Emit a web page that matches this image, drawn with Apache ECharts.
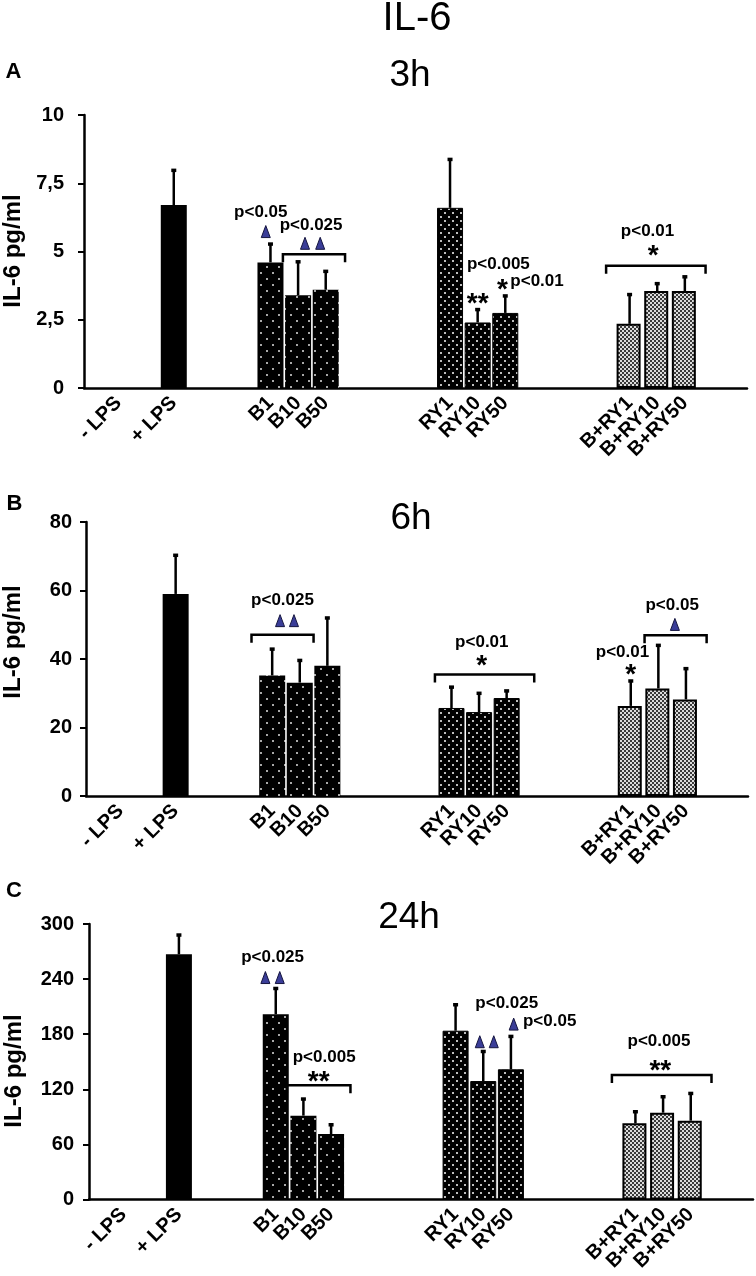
<!DOCTYPE html>
<html><head><meta charset="utf-8">
<script src="https://cdn.jsdelivr.net/npm/echarts/dist/echarts.min.js"></script>
<style>html,body{margin:0;padding:0;background:#fff}#c{width:756px;height:1276px}</style>
</head><body><div id="c"></div>
<script>
// ---------------- data ----------------
const categories = ['- LPS', '+ LPS', 'B1', 'B10', 'B50', 'RY1', 'RY10', 'RY50', 'B+RY1', 'B+RY10', 'B+RY50'];
const mean3h  = [0, 6.7, 4.6, 3.4, 3.6, 6.6, 2.4, 2.75, 2.35, 3.55, 3.55];
const err3h   = [0, 1.3, 0.7, 1.25, 0.7, 1.8, 0.5, 0.65, 1.1, 0.3, 0.55];
const mean6h  = [0, 59, 35.2, 33.1, 38, 25.7, 24.5, 28.6, 26.3, 31.4, 28.2];
const err6h   = [0, 11.5, 7.9, 6.7, 14.2, 6.3, 5.7, 2.3, 7.5, 12.8, 9.2];
const mean24h = [0, 267, 201.7, 91.3, 71.3, 183.8, 129, 141.8, 83, 94.5, 85.8];
const err24h  = [0, 21.8, 28.9, 18.9, 10.9, 29.1, 33, 36.6, 13.4, 18.2, 30.5];
const ticks3h  = ['0', '2,5', '5', '7,5', '10'];
const ticks6h  = ['0', '20', '40', '60', '80'];
const ticks24h = ['0', '60', '120', '180', '240', '300'];
const mainTitle = 'IL-6';
const panelTitles = ['3h', '6h', '24h'];
const panelLetters = ['A', 'B', 'C'];
const yTitle = 'IL-6 pg/ml';

// significance annotations (x in half-bar slot units, y in data units)
const notes3h = [
  {t:'p', text:'p<0.05', s:12.3, v:6.37},
  {t:'tri', s:12.66, v:5.73},
  {t:'p', text:'p<0.025', s:15.94, v:5.9},
  {t:'tri', s:15.5, v:5.3}, {t:'tri', s:16.6, v:5.3},
  {t:'br', s:13.9, s2:18.4, v:4.9},
  {t:'p', text:'p<0.005', s:29.5, v:4.49},
  {t:'star', text:'**', s:28.0, v:3.26},
  {t:'star', text:'*', s:29.8, v:3.77},
  {t:'p', text:'p<0.01', s:32.3, v:3.85},
  {t:'p', text:'p<0.01', s:40.3, v:5.68},
  {t:'star', text:'*', s:40.7, v:5.0},
  {t:'br', s:37.3, s2:44.5, v:4.48}
];
const notes6h = [
  {t:'p', text:'p<0.025', s:13.75, v:56.6},
  {t:'tri', s:13.57, v:51.2}, {t:'tri', s:14.58, v:51.2},
  {t:'br', s:11.5, s2:16.0, v:47.1},
  {t:'p', text:'p<0.01', s:28.2, v:44.3},
  {t:'star', text:'*', s:28.2, v:39.3},
  {t:'br', s:24.8, s2:32.0, v:35.5},
  {t:'p', text:'p<0.01', s:38.4, v:41.4},
  {t:'star', text:'*', s:39.0, v:36.7},
  {t:'p', text:'p<0.05', s:42.0, v:55.2},
  {t:'tri', s:42.2, v:50.1},
  {t:'br', s:40.0, s2:44.5, v:46.9}
];
const notes24h = [
  {t:'p', text:'p<0.025', s:12.77, v:261.9},
  {t:'tri', s:12.25, v:241.7}, {t:'tri', s:13.29, v:241.7},
  {t:'p', text:'p<0.005', s:16.5, v:153},
  {t:'star', text:'**', s:16.1, v:133.4},
  {t:'br', s:13.8, s2:18.4, v:124.3},
  {t:'p', text:'p<0.025', s:29.7, v:211.8},
  {t:'tri', s:27.75, v:171.8}, {t:'tri', s:28.76, v:171.8},
  {t:'tri', s:30.2, v:191},
  {t:'p', text:'p<0.05', s:32.8, v:192.7},
  {t:'p', text:'p<0.005', s:40.7, v:170.4},
  {t:'star', text:'**', s:40.8, v:145.4},
  {t:'br', s:37.3, s2:44.5, v:135.6}
];

// ---------------- layout / style ----------------
const FONT = "'Liberation Sans', Arial, Helvetica, sans-serif";
const slotIndex = [2, 6, 13, 15, 17, 26, 28, 30, 39, 41, 43];
const nSlots = 48;
const groupOf = ['none', 'solid', 'B', 'B', 'B', 'RY', 'RY', 'RY', 'BRY', 'BRY', 'BRY'];

function makePattern(size, bg, fg, rects) {
  const c = document.createElement('canvas');
  c.width = size; c.height = size;
  const g = c.getContext('2d');
  g.fillStyle = bg; g.fillRect(0, 0, size, size);
  g.fillStyle = fg;
  rects.forEach(r => g.fillRect(r[0], r[1], r[2], r[3]));
  return {image: c, repeat: 'repeat'};
}
const patB = makePattern(12, '#000', '#a8a8a8', [[2, 2, 2, 2], [8, 8, 2, 2]]);
const patRY = makePattern(8, '#000', '#bdbdbd', [[0, 0, 2, 2], [4, 4, 2, 2]]);
const patBRY = makePattern(4, '#3a3a3a', '#dcdcdc', [[0, 0, 2, 2], [2, 2, 2, 2]]);

function styleFor(g) {
  if (g === 'solid') return {color: '#000'};
  if (g === 'B') return {color: patB};
  if (g === 'RY') return {color: patRY, borderColor: '#000', borderWidth: 1};
  if (g === 'BRY') return {color: patBRY, borderColor: '#000', borderWidth: 2};
  return {color: '#000'};
}

const axisData = new Array(nSlots).fill('');
categories.forEach((c, i) => { axisData[slotIndex[i]] = c; });

const panels = [
  {mean: mean3h, err: err3h, ticks: ticks3h, max: 10, interval: 2.5, notes: notes3h,
   grid: {left: 84, top: 115, width: 663, height: 273}, labelMargin: 20},
  {mean: mean6h, err: err6h, ticks: ticks6h, max: 80, interval: 20, notes: notes6h,
   grid: {left: 86, top: 522, width: 662, height: 274}, labelMargin: 14},
  {mean: mean24h, err: err24h, ticks: ticks24h, max: 300, interval: 60, notes: notes24h,
   grid: {left: 89, top: 924, width: 664, height: 275.5}, labelMargin: 15}
];

const grid = [], xAxis = [], yAxis = [], series = [];
panels.forEach((p, k) => {
  grid.push(p.grid);
  xAxis.push({
    type: 'category', gridIndex: k, data: axisData,
    axisLine: {lineStyle: {color: '#000', width: 2.5}},
    axisTick: {show: false},
    axisLabel: {interval: 0, rotate: 45, margin: 12, color: '#000',
      fontFamily: FONT, fontWeight: 'bold', fontSize: 20}
  });
  yAxis.push({
    type: 'value', gridIndex: k, min: 0, max: p.max, interval: p.interval,
    splitLine: {show: false},
    axisLine: {show: true, lineStyle: {color: '#000', width: 2.5}},
    axisTick: {show: true, length: 6, lineStyle: {color: '#000', width: 2}},
    axisLabel: {margin: p.labelMargin, color: '#000', fontFamily: FONT, fontWeight: 'bold', fontSize: 20,
      formatter: v => p.ticks[Math.round(v / p.interval)]}
  });
  const dataMain = new Array(nSlots).fill(null);
  const dataBRY = new Array(nSlots).fill(null);
  const errData = [];
  categories.forEach((c, i) => {
    const g = groupOf[i];
    if (g === 'none') return;
    const item = {value: p.mean[i], itemStyle: styleFor(g)};
    if (g === 'BRY') dataBRY[slotIndex[i]] = item; else dataMain[slotIndex[i]] = item;
    errData.push([slotIndex[i], p.mean[i], p.err[i]]);
  });
  series.push({type: 'bar', xAxisIndex: k, yAxisIndex: k, data: dataBRY, barWidth: 24, barGap: '-100%', silent: true, z: 2});
  series.push({type: 'bar', xAxisIndex: k, yAxisIndex: k, data: dataMain, barWidth: 26, barGap: '-100%', silent: true, z: 2});
  series.push({
    type: 'custom', xAxisIndex: k, yAxisIndex: k, data: errData, silent: true, z: 3,
    renderItem: (params, api) => {
      const x = api.value(0), m = api.value(1), e = api.value(2);
      const p0 = api.coord([x, m]), p1 = api.coord([x, m + e]);
      return {type: 'group', children: [
        {type: 'line', shape: {x1: p0[0], y1: p0[1], x2: p1[0], y2: p1[1]}, style: {stroke: '#000', lineWidth: 2.5}},
        {type: 'rect', shape: {x: p1[0] - 2.5, y: p1[1] - 1, width: 5, height: 3.5}, style: {fill: '#000'}}
      ]};
    }
  });
  const notes = p.notes;
  series.push({
    type: 'custom', xAxisIndex: k, yAxisIndex: k, data: notes.map(() => [0, 0]), silent: true, z: 4,
    renderItem: (params, api) => {
      const a = notes[params.dataIndex];
      const c0 = api.coord([0, 0]), c1 = api.coord([1, 0]);
      const X = s => c0[0] + (c1[0] - c0[0]) * s;
      const Y = v => api.coord([0, v])[1];
      if (a.t === 'p') {
        return {type: 'text', x: X(a.s), y: Y(a.v) - 1.5, style: {text: a.text, fill: '#000',
          font: 'bold 17px ' + FONT, align: 'center', verticalAlign: 'middle', textAlign: 'center', textVerticalAlign: 'middle'}};
      }
      if (a.t === 'star') {
        return {type: 'text', x: X(a.s), y: Y(a.v) + 5, style: {text: a.text, fill: '#000',
          font: 'bold 28px ' + FONT, align: 'center', verticalAlign: 'middle', textAlign: 'center', textVerticalAlign: 'middle'}};
      }
      if (a.t === 'tri') {
        const x = X(a.s), y = Y(a.v);
        return {type: 'polygon', shape: {points: [[x, y - 6], [x - 4.5, y + 6], [x + 4.5, y + 6]]},
          style: {fill: '#3a3d98', stroke: '#15153f', lineWidth: 1}};
      }
      if (a.t === 'br') {
        const x1 = X(a.s), x2 = X(a.s2), y = Y(a.v);
        return {type: 'polyline', shape: {points: [[x1, y + 8], [x1, y], [x2, y], [x2, y + 8]]},
          style: {stroke: '#000', fill: 'none', lineWidth: 2.5}};
      }
      return null;
    }
  });
});

function txt(text, x, y, font, rot) {
  return {type: 'text', x: x, y: y, rotation: rot || 0, silent: true,
    style: {text: text, font: font, fill: '#000', align: 'center', verticalAlign: 'middle',
      textAlign: 'center', textVerticalAlign: 'middle'}};
}
const graphics = [
  txt(mainTitle, 417, 19, '40px ' + FONT),
  txt(panelTitles[0], 410, 76, '37px ' + FONT),
  txt(panelTitles[1], 411, 519, '37px ' + FONT),
  txt(panelTitles[2], 409, 918, '37px ' + FONT),
  txt(panelLetters[0], 13.5, 72, 'bold 22px ' + FONT),
  txt(panelLetters[1], 14.5, 504, 'bold 22px ' + FONT),
  txt(panelLetters[2], 14, 891, 'bold 22px ' + FONT),
  txt(yTitle, 13, 251, 'bold 24px ' + FONT, Math.PI / 2),
  txt(yTitle, 13.5, 642, 'bold 24px ' + FONT, Math.PI / 2),
  txt(yTitle, 14, 1071, 'bold 24px ' + FONT, Math.PI / 2)
];

const chart = echarts.init(document.getElementById('c'), null, {renderer: 'canvas'});
chart.setOption({
  animation: false,
  backgroundColor: '#fff',
  grid: grid, xAxis: xAxis, yAxis: yAxis, series: series,
  graphic: {elements: graphics}
});
</script>
</body></html>
